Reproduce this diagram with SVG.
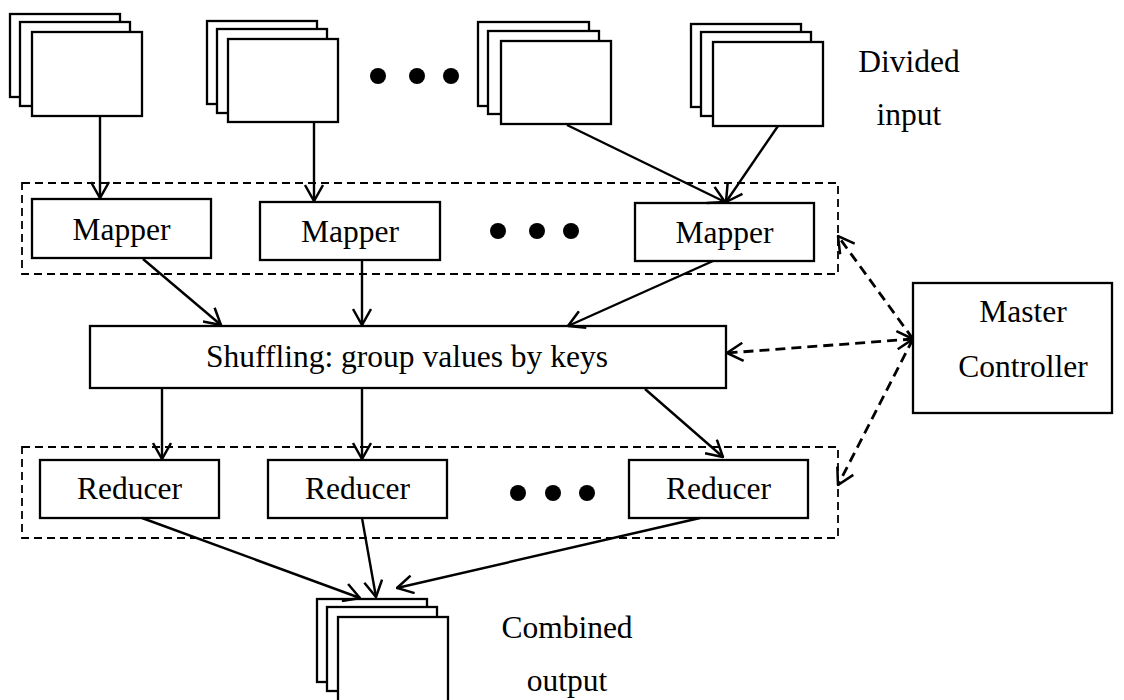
<svg xmlns="http://www.w3.org/2000/svg" width="1124" height="700" viewBox="0 0 1124 700">
<defs>
<style>
.box{fill:#fff;stroke:#000;stroke-width:2.3}
.grp{fill:none;stroke:#000;stroke-width:1.8;stroke-dasharray:8,5}
.t{font-family:"Liberation Serif","Times New Roman",serif;font-size:31.5px;fill:#000;text-anchor:middle}
.c{fill:none;stroke:#000;stroke-width:2.4}
.d{fill:none;stroke:#000;stroke-width:2.8;stroke-dasharray:10,6}
</style>
<marker id="ah" viewBox="0 0 18 20" refX="17" refY="10" markerWidth="18" markerHeight="20" markerUnits="userSpaceOnUse" orient="auto-start-reverse">
<path d="M1,1 L17,10 L1,19" fill="none" stroke="#000" stroke-width="2.5"/>
</marker>
</defs>
<rect width="1124" height="700" fill="#fff"/>

<g id="input1"><rect class="box" x="10" y="14" width="110" height="83"/><rect class="box" x="20" y="22" width="110" height="84"/><rect class="box" x="32" y="32" width="110" height="84"/></g>
<g id="input2"><rect class="box" x="207" y="21" width="110" height="83"/><rect class="box" x="217" y="29" width="110" height="84"/><rect class="box" x="228" y="39" width="110" height="83"/></g>
<g id="input3"><rect class="box" x="478" y="22" width="111" height="84"/><rect class="box" x="488" y="31" width="111" height="83"/><rect class="box" x="501" y="41" width="110" height="83"/></g>
<g id="input4"><rect class="box" x="691" y="24" width="110" height="83"/><rect class="box" x="701" y="32" width="110" height="84"/><rect class="box" x="713" y="42" width="110" height="84"/></g>
<g id="dots-top"><circle cx="378" cy="76" r="8"/><circle cx="417" cy="76" r="8"/><circle cx="451" cy="76" r="8"/></g>
<g id="label-input"><text class="t" x="909" y="72">Divided</text><text class="t" x="909" y="125">input</text></g>

<g id="map-group"><rect class="grp" x="22" y="183" width="816" height="91"/></g>
<g id="mapper1"><rect class="box" x="32" y="199" width="179" height="59"/><text class="t" x="121.5" y="240">Mapper</text></g>
<g id="mapper2"><rect class="box" x="260" y="202" width="180" height="58"/><text class="t" x="350" y="242">Mapper</text></g>
<g id="mapper3"><rect class="box" x="635" y="203" width="179" height="58"/><text class="t" x="724.5" y="243">Mapper</text></g>
<g id="dots-map"><circle cx="498" cy="231" r="8"/><circle cx="537" cy="231" r="8"/><circle cx="571" cy="231" r="8"/></g>

<g id="shuffle"><rect class="box" x="90" y="326" width="636" height="62"/><text class="t" x="407" y="367">Shuffling: group values by keys</text></g>

<g id="master"><rect class="box" x="913" y="283" width="199" height="130"/><text class="t" x="1023" y="322">Master</text><text class="t" x="1023" y="377">Controller</text></g>

<g id="red-group"><rect class="grp" x="22" y="447" width="816" height="91"/></g>
<g id="reducer1"><rect class="box" x="40" y="460" width="179" height="58"/><text class="t" x="129.5" y="499">Reducer</text></g>
<g id="reducer2"><rect class="box" x="268" y="460" width="179" height="58"/><text class="t" x="357.5" y="499">Reducer</text></g>
<g id="reducer3"><rect class="box" x="629" y="460" width="179" height="58"/><text class="t" x="718.5" y="499">Reducer</text></g>
<g id="dots-red"><circle cx="518" cy="493" r="8"/><circle cx="553" cy="493" r="8"/><circle cx="587" cy="493" r="8"/></g>

<g id="output"><rect class="box" x="317" y="599" width="110" height="83"/><rect class="box" x="327" y="607" width="110" height="84"/><rect class="box" x="338" y="617" width="110" height="90"/></g>
<g id="label-output"><text class="t" x="567" y="638">Combined</text><text class="t" x="567" y="691">output</text></g>

<g id="connectors">
<line class="c" x1="100" y1="116" x2="100" y2="198" marker-end="url(#ah)"/>
<line class="c" x1="314" y1="122" x2="314" y2="201" marker-end="url(#ah)"/>
<line class="c" x1="567" y1="125" x2="725" y2="202" marker-end="url(#ah)"/>
<line class="c" x1="778" y1="126" x2="726" y2="202" marker-end="url(#ah)"/>
<line class="c" x1="143" y1="259" x2="221" y2="325" marker-end="url(#ah)"/>
<line class="c" x1="362" y1="260" x2="362" y2="325" marker-end="url(#ah)"/>
<line class="c" x1="713" y1="261" x2="568" y2="326" marker-end="url(#ah)"/>
<line class="c" x1="162" y1="388" x2="162" y2="459" marker-end="url(#ah)"/>
<line class="c" x1="362" y1="388" x2="362" y2="459" marker-end="url(#ah)"/>
<line class="c" x1="645" y1="389" x2="723" y2="457" marker-end="url(#ah)"/>
<line class="c" x1="142" y1="518" x2="360" y2="598" marker-end="url(#ah)"/>
<line class="c" x1="362" y1="518" x2="376" y2="597" marker-end="url(#ah)"/>
<line class="c" x1="700" y1="518" x2="397" y2="588" marker-end="url(#ah)"/>
<line class="d" x1="913" y1="339" x2="838" y2="236" marker-end="url(#ah)"/>
<line class="d" x1="913" y1="339" x2="727" y2="353" marker-start="url(#ah)" marker-end="url(#ah)"/>
<line class="d" x1="913" y1="339" x2="838" y2="485" marker-end="url(#ah)"/>
</g>
</svg>
